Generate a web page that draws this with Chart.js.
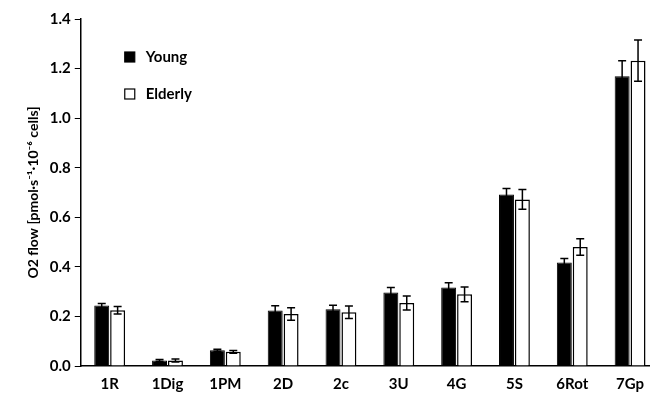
<!DOCTYPE html>
<html>
<head>
<meta charset="utf-8">
<script src="https://cdn.jsdelivr.net/npm/chart.js@4"></script>
<style>
  html, body { margin: 0; padding: 0; background: #fff; overflow: hidden; }
  #wrap { position: absolute; left: 0; top: 0; width: 659px; height: 396px; }
</style>
</head>
<body>
<div id="wrap"><canvas id="chart"></canvas></div>
<script>
const categories = ["1R", "1Dig", "1PM", "2D", "2c", "3U", "4G", "5S", "6Rot", "7Gp"];
const young = [0.244, 0.022, 0.064, 0.224, 0.229, 0.297, 0.317, 0.692, 0.418, 1.169];
const youngErr = [0.008, 0.004, 0.004, 0.019, 0.016, 0.020, 0.019, 0.024, 0.016, 0.063];
const elderly = [0.225, 0.022, 0.057, 0.210, 0.217, 0.254, 0.289, 0.672, 0.480, 1.232];
const elderlyErr = [0.015, 0.006, 0.006, 0.025, 0.025, 0.028, 0.030, 0.040, 0.033, 0.083];
const yTicks = [0, 0.2, 0.4, 0.6, 0.8, 1.0, 1.2, 1.4];

const fontFamily = "Lato, 'Open Sans', sans-serif";

// error bars drawn on top of the bars
const errorBars = {
  id: "errorBars",
  afterDatasetsDraw(chart) {
    const ctx = chart.ctx;
    const yScale = chart.scales.y;
    ctx.save();
    ctx.strokeStyle = "#000";
    ctx.lineWidth = 1.5;
    chart.data.datasets.forEach((ds, di) => {
      const meta = chart.getDatasetMeta(di);
      meta.data.forEach((bar, i) => {
        const v = ds.data[i];
        const e = ds.errors[i];
        const x = bar.x;
        const yTop = yScale.getPixelForValue(v + e);
        const yBot = yScale.getPixelForValue(v - e);
        const cap = 4;
        ctx.beginPath();
        ctx.moveTo(x, yTop);
        ctx.lineTo(x, yBot);
        ctx.moveTo(x - cap, yTop);
        ctx.lineTo(x + cap, yTop);
        ctx.moveTo(x - cap, yBot);
        ctx.lineTo(x + cap, yBot);
        ctx.stroke();
      });
    });
    ctx.restore();
  }
};

// legend inside the plot, top left
const innerLegend = {
  id: "innerLegend",
  afterDraw(chart) {
    const ctx = chart.ctx;
    const area = chart.chartArea;
    ctx.save();
    ctx.font = "bold 15px " + fontFamily;
    ctx.textBaseline = "middle";
    chart.data.datasets.forEach((ds, i) => {
      const x = area.left + 44;
      const y = area.top + 38 + i * 37;
      ctx.fillStyle = ds.backgroundColor;
      ctx.fillRect(x, y - 5, 10, 10);
      ctx.strokeStyle = "#000";
      ctx.lineWidth = 1.2;
      ctx.strokeRect(x, y - 5, 10, 10);
      ctx.fillStyle = "#000";
      ctx.fillText(ds.label, x + 21, y);
    });
    ctx.restore();
  }
};

new Chart(document.getElementById("chart"), {
  type: "bar",
  data: {
    labels: categories,
    datasets: [
      {
        label: "Young",
        data: young,
        errors: youngErr,
        backgroundColor: "#000",
        borderColor: "#000",
        borderWidth: 1
      },
      {
        label: "Elderly",
        data: elderly,
        errors: elderlyErr,
        backgroundColor: "#fff",
        borderColor: "#000",
        borderWidth: 1.5
      }
    ]
  },
  options: {
    responsive: true,
    maintainAspectRatio: false,
    animation: false,
    layout: { padding: { top: 19, right: 0, bottom: 0, left: 25 } },
    datasets: {
      bar: { categoryPercentage: 0.55, barPercentage: 0.94 }
    },
    plugins: {
      legend: { display: false },
      tooltip: { enabled: false }
    },
    scales: {
      x: {
        grid: { display: false, drawTicks: true, tickLength: 6, offset: true, color: "#000" },
        border: { color: "#000", width: 1.5 },
        ticks: {
          color: "#000",
          font: { family: fontFamily, size: 15, weight: "bold" },
          padding: 3,
          maxRotation: 0
        }
      },
      y: {
        min: 0,
        max: 1.4,
        afterBuildTicks(axis) {
          axis.ticks = yTicks.map(v => ({ value: v }));
        },
        grid: { drawOnChartArea: false, tickLength: 6, color: "#000" },
        border: { color: "#000", width: 1.5 },
        ticks: {
          color: "#000",
          font: { family: fontFamily, size: 15, weight: "bold" },
          padding: 4,
          callback: v => v.toFixed(1)
        },
        title: {
          display: true,
          text: "O2 flow [pmol·s⁻¹·10⁻⁶ cells]",
          color: "#000",
          font: { family: fontFamily, size: 14, weight: "bold" },
          padding: { top: 0, bottom: 4 }
        }
      }
    }
  },
  plugins: [errorBars, innerLegend]
});
</script>
</body>
</html>
